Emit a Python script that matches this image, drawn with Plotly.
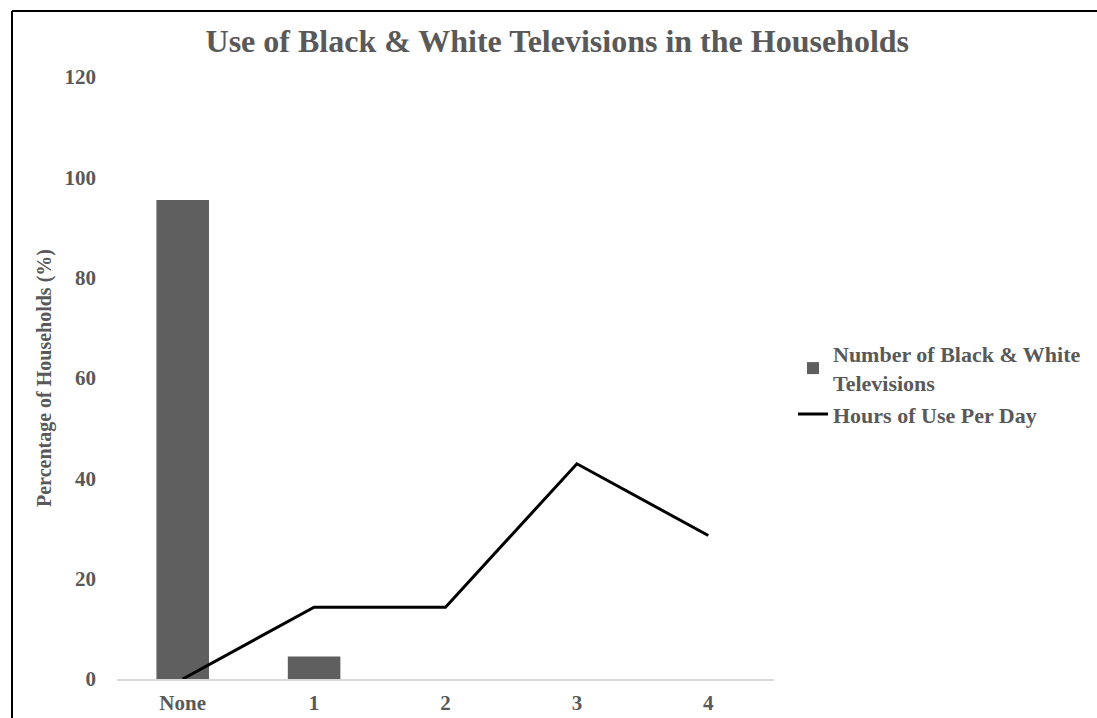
import plotly.graph_objects as go

categories = ["None", "1", "2", "3", "4"]
tv_counts = [95.5, 4.5, 0, 0, 0]
hours_use = [0, 14.3, 14.3, 42.9, 28.6]
y_ticks = [0, 20, 40, 60, 80, 100, 120]

TXT = "#595959"
FONT = "Liberation Serif"

fig = go.Figure()
fig.add_trace(go.Bar(
    x=categories, y=tv_counts, name="Number of Black & White<br>Televisions",
    marker=dict(color="#5f5f5f", line=dict(width=0)), width=0.4,
))
fig.add_trace(go.Scatter(
    x=categories, y=hours_use, name="Hours of Use Per Day",
    mode="lines", line=dict(color="black", width=3),
))

W, H = 1097, 718
L, R, T, B = 117, 774, 77, 679
pw, ph = R - L, B - T

def px(x):
    return (x - L) / pw

def py(y):
    return (B - y) / ph

# outer frame (left and top edges visible)
fig.add_shape(type="line", xref="paper", yref="paper",
              x0=px(12), x1=px(12), y0=py(11), y1=py(760),
              line=dict(color="black", width=2), layer="above")
fig.add_shape(type="line", xref="paper", yref="paper",
              x0=px(12), x1=px(1150), y0=py(11), y1=py(11),
              line=dict(color="black", width=2), layer="above")

bold = dict(family=FONT, color=TXT, weight="bold")

fig.update_layout(
    width=W, height=H,
    margin=dict(l=L, r=W - R, t=T, b=H - B, pad=0, autoexpand=False),
    paper_bgcolor="white", plot_bgcolor="white",
    font=dict(family=FONT, color=TXT, size=20, weight="bold"),
    title=dict(text="Use of Black & White Televisions in the Households",
               x=0.508, xanchor="center", y=1 - 41 / H, yanchor="middle",
               font=dict(size=32, **bold)),
    showlegend=True,
    legend=dict(x=px(793), xanchor="left", y=py(333), yanchor="top",
                font=dict(size=22, **bold),
                itemwidth=30, tracegroupgap=0, bgcolor="rgba(0,0,0,0)"),
    xaxis=dict(type="category", range=[-0.5, 4.5], showgrid=False,
               showline=True, linecolor="#d9d9d9", linewidth=1.5,
               ticks="", tickfont=dict(size=21, **bold), automargin=False,
               ticklabelstandoff=4),
    yaxis=dict(range=[0, 120], tickvals=y_ticks, showgrid=False, zeroline=False,
               showline=False, ticks="", automargin=False,
               tickfont=dict(size=21, **bold),
               ticklabelstandoff=20,
               title=dict(text="Percentage of Households (%)",
                          font=dict(size=20, **bold), standoff=7)),
)

fig.write_html("out.html")
